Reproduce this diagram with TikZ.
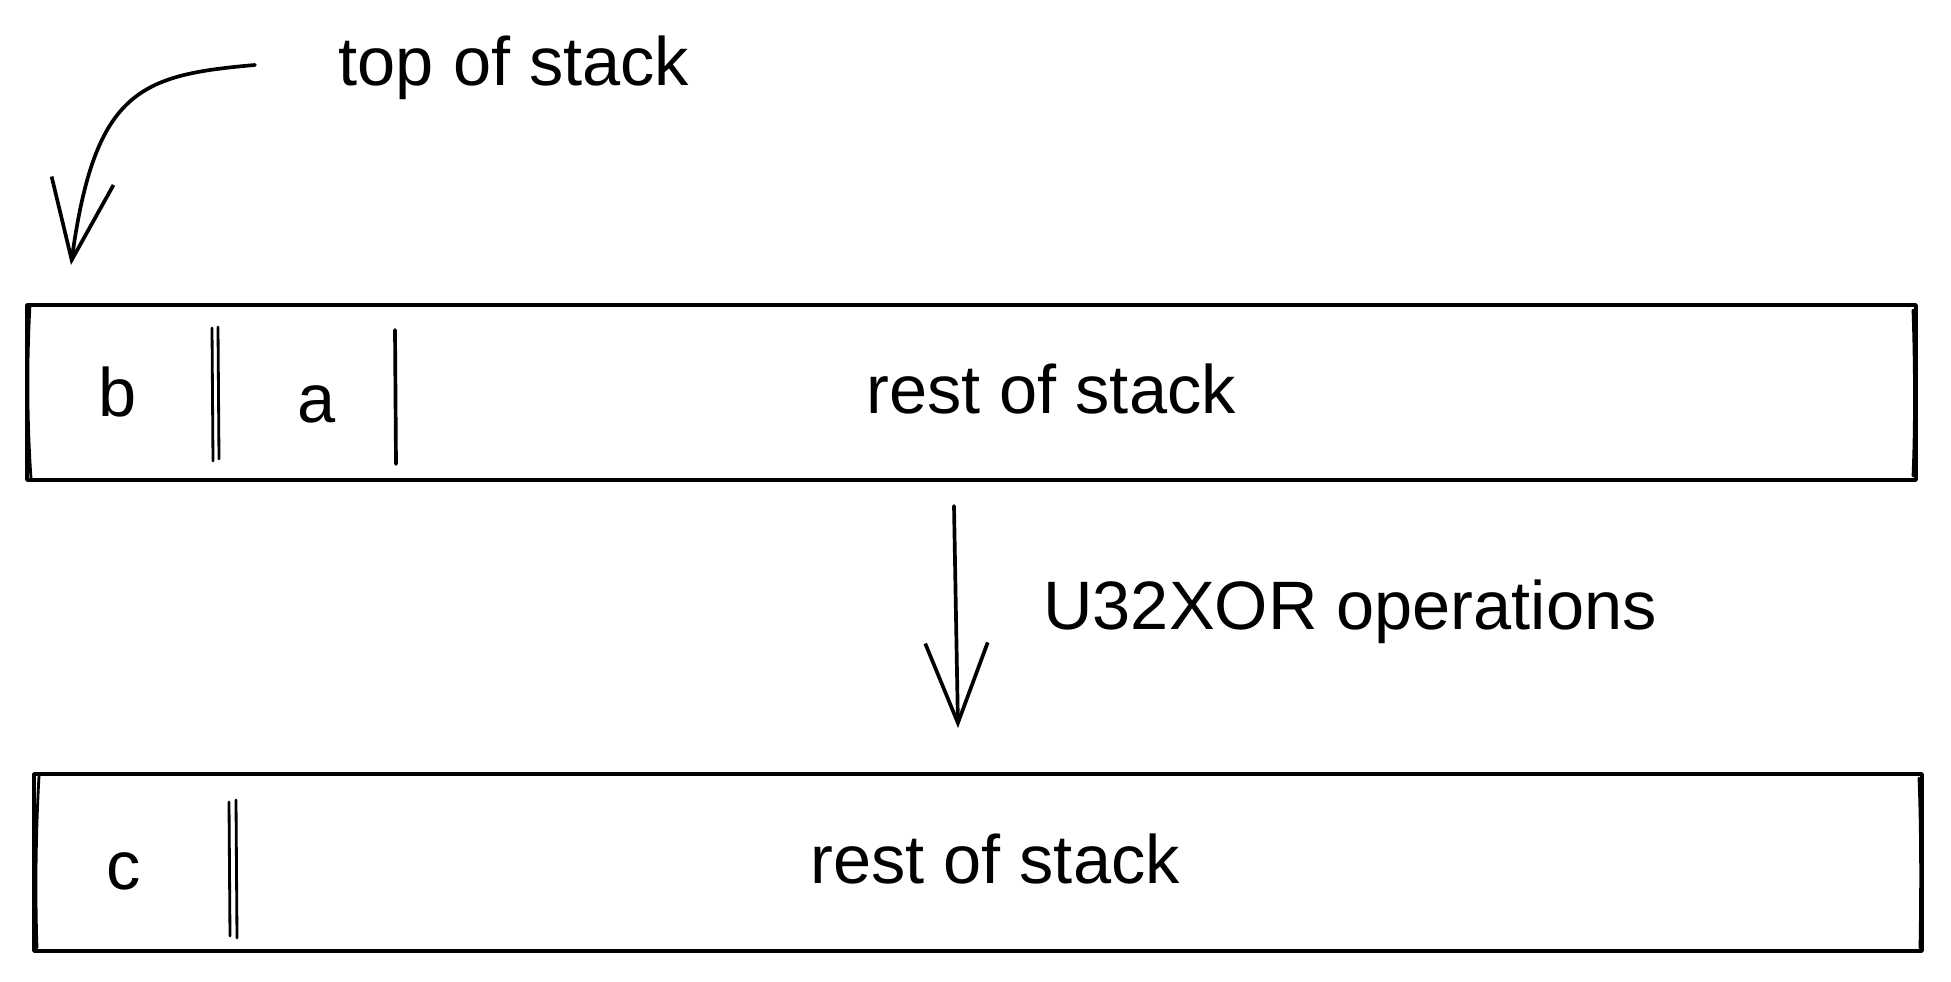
\documentclass[tikz,border=0pt]{standalone}
\usepackage{fontspec}
\setmainfont{Liberation Sans}
\usetikzlibrary{arrows.meta}
\begin{document}
\begin{tikzpicture}[x=0.02cm,y=-0.02cm,
  sk/.style={line width=2.1pt, line cap=round, line join=round},
  thin/.style={line width=1.6pt, line cap=round},
  stackbox/.style={draw, sk, inner sep=0pt},
  lbl/.style={font=\fontsize{39}{45}\selectfont, inner sep=0pt},
  barb/.style={-{Straight Barb[length=1.6cm,width=1.25cm,line width=2.1pt]}}
]
\useasboundingbox (0,0) rectangle (1951,982);
% boxes
\node[stackbox, minimum width=1889*0.02cm, minimum height=175*0.02cm] (top) at (971.5,392.5) {};
\node[stackbox, minimum width=1888*0.02cm, minimum height=177*0.02cm] (bot) at (978,862.5) {};
% sketchy second strokes on the box sides
\draw[thin] (30,305) .. controls (27,360) and (27,420) .. (31,478);
\draw[thin] (1913,310) .. controls (1915,370) and (1915,430) .. (1913,476);
\draw[thin] (39,776) .. controls (36,830) and (35,890) .. (37,948);
\draw[thin] (1919,778) .. controls (1921,830) and (1921,890) .. (1920,948);
% dividers (sketchy double strokes)
\draw[thin] (212,328) -- (213,461);
\draw[thin] (218,327) -- (219,459);
\draw[sk] (395,330) -- (396,464);
\draw[thin] (229,802) -- (230,936);
\draw[thin] (236,800) -- (237,938);
% labels
\node[lbl] (b) at (118,392) {b};
\node[lbl] (a) at (317,404) {a};
\node[lbl] (rest1) at (1051,389) {rest of stack};
\node[lbl] (c) at (124,871) {c};
\node[lbl] (rest2) at (995,859) {rest of stack};
\node[lbl] (tos) at (514,68) {top of stack};
\node[lbl] (ops) at (1350,612) {U32XOR operations};
% arrows
\coordinate (tosstart) at (255,65);
\coordinate (tostip) at (71,265);
\draw[sk, barb] (tosstart) .. controls (140,75) and (95,90) .. (tostip);
\coordinate (opsstart) at (954,506);
\coordinate (opstip) at (958,728);
\draw[sk, barb] (opsstart) -- (opstip);
\end{tikzpicture}
\end{document}
